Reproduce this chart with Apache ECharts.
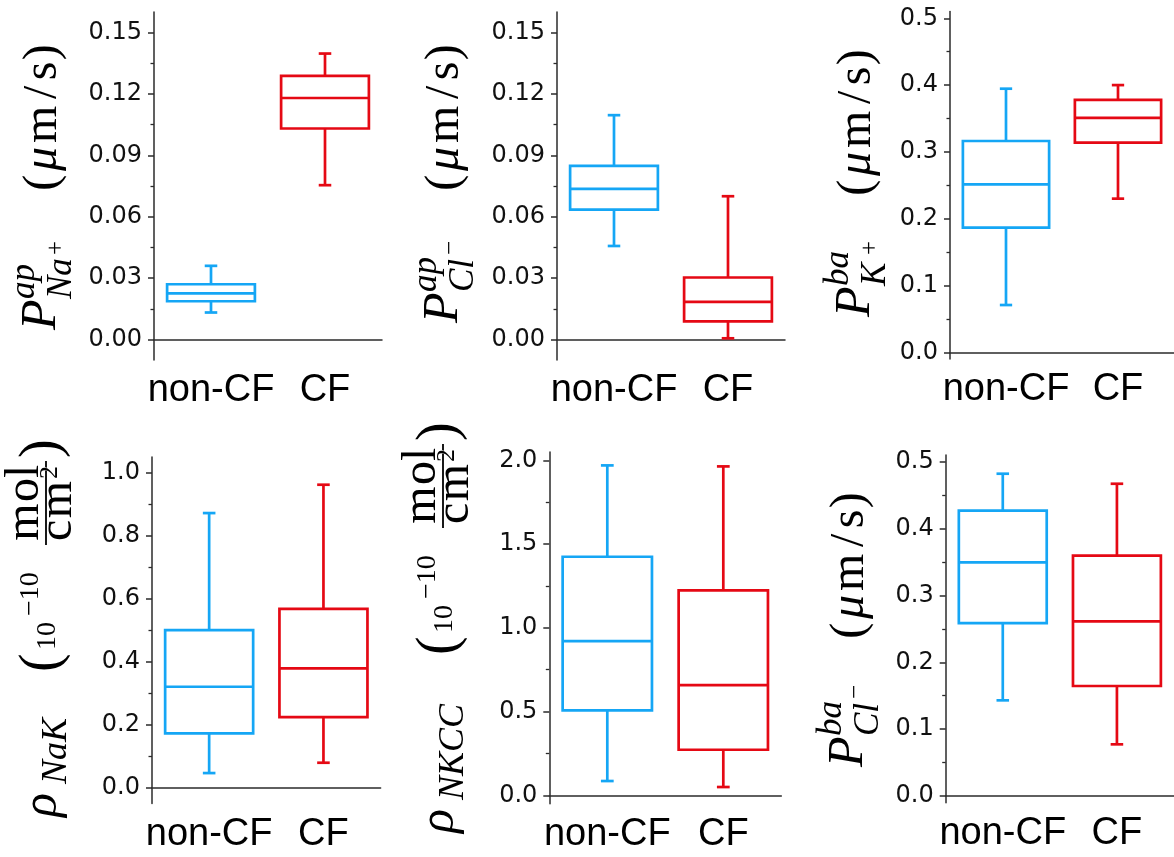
<!DOCTYPE html>
<html>
<head>
<meta charset="utf-8">
<script src="https://cdn.jsdelivr.net/npm/echarts@6/dist/echarts.min.js"></script>
<style>
  html, body { margin: 0; padding: 0; background: #fff; }
  #main { width: 1174px; height: 857px; }
</style>
</head>
<body>
<div id="main"></div>
<script>
  'use strict'

  var groups = ['non-CF', 'CF'];
  var boxColors = ['#15a6f5', '#e50914'];

  // each box: [low whisker, Q1, median, Q3, high whisker]
  var pNaAp = [[0.0132, 0.0187, 0.0225, 0.0270, 0.0360], [0.0754, 0.1031, 0.1180, 0.1288, 0.1397]];
  var pClAp = [[0.0457, 0.0635, 0.0736, 0.0848, 0.1096], [0.0006, 0.0089, 0.0184, 0.0303, 0.0700]];
  var pKBa = [[0.0708, 0.1866, 0.2515, 0.3163, 0.3946], [0.2300, 0.3138, 0.3510, 0.3780, 0.4000]];
  var rhoNaK = [[0.0466, 0.1725, 0.3206, 0.5006, 0.8720], [0.0794, 0.2244, 0.3790, 0.5680, 0.9620]];
  var rhoNKCC = [[0.0854, 0.5075, 0.9210, 1.4245, 1.9700], [0.0496, 0.2720, 0.6585, 1.2240, 1.9640]];
  var pClBa = [[0.1431, 0.2587, 0.3495, 0.4267, 0.4820], [0.0773, 0.1645, 0.2612, 0.3594, 0.4670]];

  // tick values
  var ticksAp = [0, 0.03, 0.06, 0.09, 0.12, 0.15];
  var minorAp = [0.015, 0.045, 0.075, 0.105, 0.135];
  var ticksBa = [0, 0.1, 0.2, 0.3, 0.4, 0.5];
  var minorBa = [0.05, 0.15, 0.25, 0.35, 0.45];
  var ticksNaK = [0, 0.2, 0.4, 0.6, 0.8, 1.0];
  var minorNaK = [0.1, 0.3, 0.5, 0.7, 0.9];
  var ticksNKCC = [0, 0.5, 1.0, 1.5, 2.0];
  var minorNKCC = [0.25, 0.75, 1.25, 1.75];

  var panels = [
    {data: pNaAp, left: 154, top: 12, width: 228, height: 348, min: -0.01, max: 0.16, ticks: ticksAp, minor: minorAp, digits: 2},
    {data: pClAp, left: 557, top: 12, width: 228, height: 348, min: -0.01, max: 0.16, ticks: ticksAp, minor: minorAp, digits: 2},
    {data: pKBa, left: 950, top: 11.6, width: 230, height: 347.4, min: -0.01, max: 0.51, ticks: ticksBa, minor: minorBa, digits: 1},
    {data: rhoNaK, left: 152, top: 457, width: 228.6, height: 346.5, min: -0.05, max: 1.05, ticks: ticksNaK, minor: minorNaK, digits: 1},
    {data: rhoNKCC, left: 549.3, top: 452, width: 232, height: 351.7, min: -0.05, max: 2.05, ticks: ticksNKCC, minor: minorNKCC, digits: 1},
    {data: pClBa, left: 945.7, top: 455, width: 230.6, height: 347.7, min: -0.01, max: 0.51, ticks: ticksBa, minor: minorBa, digits: 1}
  ];

  var axisColor = '#2b2b2b';

  function renderBox(params, api) {
    var i = api.value(0);
    var c = boxColors[i];
    var lo = api.coord([i, api.value(1)]);
    var q1 = api.coord([i, api.value(2)]);
    var md = api.coord([i, api.value(3)]);
    var q3 = api.coord([i, api.value(4)]);
    var hi = api.coord([i, api.value(5)]);
    var band = api.size([1, 0])[0];
    var hw = band * 0.385;
    var cw = band * 0.055;
    var x = lo[0];
    var st = {stroke: c, lineWidth: 2.7, fill: null};
    return {
      type: 'group',
      children: [
        {type: 'rect', shape: {x: x - hw, y: q3[1], width: 2 * hw, height: q1[1] - q3[1]}, style: {stroke: c, lineWidth: 2.7, fill: 'none'}},
        {type: 'line', shape: {x1: x - hw, y1: md[1], x2: x + hw, y2: md[1]}, style: st},
        {type: 'line', shape: {x1: x, y1: q3[1], x2: x, y2: hi[1]}, style: st},
        {type: 'line', shape: {x1: x, y1: q1[1], x2: x, y2: lo[1]}, style: st},
        {type: 'line', shape: {x1: x - cw, y1: hi[1], x2: x + cw, y2: hi[1]}, style: st},
        {type: 'line', shape: {x1: x - cw, y1: lo[1], x2: x + cw, y2: lo[1]}, style: st}
      ]
    };
  }

  var grids = [], xAxes = [], yAxes = [], series = [];
  panels.forEach(function (p, k) {
    grids.push({left: p.left, top: p.top, width: p.width, height: p.height});
    xAxes.push({
      gridIndex: k,
      type: 'category',
      data: groups,
      boundaryGap: true,
      axisLine: {lineStyle: {color: axisColor, width: 1.5}},
      axisTick: {alignWithLabel: true, length: 6, lineStyle: {color: axisColor, width: 1.5}},
      axisLabel: {interval: 0, hideOverlap: false, fontFamily: 'Liberation Sans', fontSize: 38, color: '#000', margin: 12}
    });
    yAxes.push({
      gridIndex: k,
      type: 'value',
      min: p.min,
      max: p.max,
      position: 'left',
      axisLine: {show: true, lineStyle: {color: axisColor, width: 1.5}},
      axisTick: {show: true, length: 6, customValues: p.ticks, lineStyle: {color: axisColor, width: 1.5}},
      axisLabel: {
        customValues: p.ticks,
        formatter: function (v) { return v.toFixed(p.digits); },
        fontFamily: 'DejaVu Sans', fontSize: 24, color: '#111', margin: 12
      },
      splitLine: {show: false}
    });
    // minor ticks
    yAxes.push({
      gridIndex: k,
      type: 'value',
      min: p.min,
      max: p.max,
      position: 'left',
      axisLine: {show: false},
      axisTick: {show: true, length: 3.5, customValues: p.minor, lineStyle: {color: axisColor, width: 1.3}},
      axisLabel: {show: false},
      splitLine: {show: false}
    });
    series.push({
      type: 'custom',
      xAxisIndex: k,
      yAxisIndex: 2 * k,
      renderItem: renderBox,
      encode: {x: 0, y: [1, 2, 3, 4, 5]},
      data: p.data.map(function (v, i) { return [i].concat(v); }),
      silent: true
    });
  });

  // y axis titles (math text laid out by hand, rotated)
  var serif = 'Liberation Serif';
  var mctx = document.createElement('canvas').getContext('2d');
  function textW(t, size, italic) {
    mctx.font = (italic ? 'italic ' : '') + size + 'px "' + serif + '"';
    return mctx.measureText(t).width;
  }
  function tok(text, off, mid, size, italic) {
    var s = {
      text: text, fontFamily: serif, fontSize: size, fontWeight: 'normal',
      fontStyle: italic ? 'italic' : 'normal', fill: '#000', align: 'left', verticalAlign: 'middle'
    };
    // thin the glyphs a little, closer to Computer Modern
    s.stroke = '#fff';
    s.lineWidth = size >= 40 ? 1.5 : 0.8;
    s.strokeFirst = false;
    return {type: 'text', x: off, y: mid, style: s};
  }
  // glyph run spaced with Computer Modern advance widths (em)
  function run(chars, adv, italics, off, mid, size) {
    var out = [], x = off;
    for (var i = 0; i < chars.length; i++) {
      var a = adv[i] * size;
      var w = textW(chars[i], size, italics[i]);
      out.push(tok(chars[i], x + (a - w) / 2, mid, size, italics[i]));
      x += a;
    }
    return out;
  }
  function unitToks(off, mid) {
    return run(['(', 'μ', 'm', '/', 's', ')'], [0.389, 0.603, 0.833, 0.5, 0.394, 0.389],
      [false, true, false, false, false, false], off, mid, 48);
  }
  function pLabel(start, B, sup, sub, subsup, subsupMid, subsupOff, unitOff) {
    return {
      type: 'group', x: 0, y: start, rotation: Math.PI / 2,
      children: [
        tok('P', 0, B - 16, 50, true),
        tok(sup, 31, B - 33, 35, true),
        tok(sub, 31, B + 4, 35, true),
        tok(subsup, subsupOff, B + subsupMid, 25, false)
      ].concat(unitToks(unitOff, B - 15))
    };
  }
  function rhoLabel(start, B, sub, S) {
    return {
      type: 'group', x: 0, y: start, rotation: Math.PI / 2,
      children: [
        tok('ρ', 0, B - 16, 50, true),
        tok(sub, 33, B - 2.5, 36, true),
        tok('(', S, B - 16, 56, false),
        tok('10', S + 22, B - 11, 28, false),
        tok('−10', S + 56, B - 28, 28, false),
        {type: 'line', shape: {x1: S + 127, y1: B - 13, x2: S + 211, y2: B - 13}, style: {stroke: '#000', lineWidth: 1.8}},
        tok('2', S + 193, B - 9, 26, false),
        tok(')', S + 214, B - 16, 56, false)
      ]
        .concat(run(['m', 'o', 'l'], [0.833, 0.5, 0.278], [false, false, false], S + 130, B - 34, 48))
        .concat(run(['c', 'm'], [0.444, 0.833], [false, false], S + 131, B - 1, 48))
    };
  }

  var titles = [
    pLabel(330, 58, 'ap', 'Na', '+', -2, 75, 138),
    pLabel(323, 460, 'ap', 'Cl', '−', -10, 68, 131),
    pLabel(317, 872, 'ba', 'K', '+', -2, 62, 120),
    rhoLabel(817, 59, 'NaK', 145),
    rhoLabel(833, 456, 'NKCC', 178),
    pLabel(767, 865, 'ba', 'Cl', '−', -10, 68, 127)
  ];

  var chart = echarts.init(document.getElementById('main'));
  chart.setOption({
    backgroundColor: '#fff',
    animation: false,
    grid: grids,
    xAxis: xAxes,
    yAxis: yAxes,
    series: series,
    graphic: titles
  });
</script>
</body>
</html>
